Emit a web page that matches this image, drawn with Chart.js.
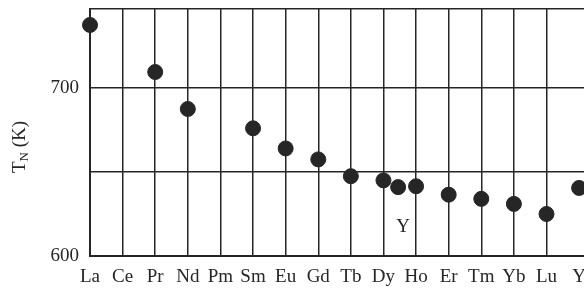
<!DOCTYPE html>
<html>
<head>
<meta charset="utf-8">
<script src="https://cdn.jsdelivr.net/npm/chart.js@4/dist/chart.umd.min.js"></script>
<style>
  html, body { margin: 0; padding: 0; background: #fff; overflow: hidden; }
  #wrap { width: 584px; height: 291px; position: relative; }
</style>
</head>
<body>
<div id="wrap"><canvas id="neelChart"></canvas></div>
<script>
/* ── Data ── */
const elements = ['La', 'Ce', 'Pr', 'Nd', 'Pm', 'Sm', 'Eu', 'Gd', 'Tb', 'Dy', 'Ho', 'Er', 'Tm', 'Yb', 'Lu', 'Y'];
const pointPos = [0, 2, 3, 5, 6, 7, 8, 9, 9.45, 10, 11, 12, 13, 14, 15];
const neelTemps = [737.5, 709.5, 687.5, 676, 664, 657.5, 647.5, 645, 641, 641.5, 636.5, 634, 631, 625, 640.5];
const yTicks = [600, 650, 700, 747];
const yLabels = { 600: '600', 700: '700' };

const INK = '#262626';
const SERIF = '"Liberation Serif", "DejaVu Serif", serif';
const FS = 19;

/* Draws the T_N (K) axis title and the loose "Y" note inside the plot */
const annotations = {
  id: 'annotations',
  afterDraw(chart) {
    const ctx = chart.ctx;
    const xs = chart.scales.x, ys = chart.scales.y;
    ctx.save();
    ctx.fillStyle = INK;

    /* rotated axis title with subscript N */
    ctx.translate(20, 147);
    ctx.rotate(-Math.PI / 2);
    ctx.textBaseline = 'middle';
    ctx.textAlign = 'left';
    const big = FS + 'px ' + SERIF, small = '13px ' + SERIF;
    ctx.font = big;
    const tW = ctx.measureText('T').width, rW = ctx.measureText(' (K)').width;
    ctx.font = small;
    const nW = ctx.measureText('N').width;
    let x0 = -(tW + nW + rW) / 2;
    ctx.font = big;
    ctx.fillText('T', x0, 0);
    x0 += tW;
    ctx.font = small;
    ctx.fillText('N', x0, 5);
    x0 += nW;
    ctx.font = big;
    ctx.fillText(' (K)', x0, 0);
    ctx.restore();

    ctx.save();
    ctx.fillStyle = INK;
    ctx.font = FS + 'px ' + SERIF;
    ctx.textAlign = 'center';
    ctx.textBaseline = 'middle';
    ctx.fillText('Y', xs.getPixelForValue(9.6), ys.getPixelForValue(617));
    ctx.restore();
  }
};

const points = pointPos.map((p, i) => ({ x: p, y: neelTemps[i] }));

new Chart(document.getElementById('neelChart'), {
  type: 'scatter',
  data: {
    datasets: [{
      data: points,
      backgroundColor: INK,
      borderColor: INK,
      pointRadius: 7.5,
      pointHoverRadius: 7.5,
      clip: false
    }]
  },
  options: {
    responsive: true,
    maintainAspectRatio: false,
    animation: false,
    events: [],
    layout: { autoPadding: false, padding: { top: 9, right: 0, left: 0, bottom: 0 } },
    plugins: {
      legend: { display: false },
      tooltip: { enabled: false }
    },
    scales: {
      x: {
        type: 'linear',
        min: 0,
        max: 15.15,
        afterBuildTicks: function(scale) {
          scale.ticks = elements.map((e, i) => ({ value: i }));
        },
        afterFit: function(scale) {
          scale.height = 35;
          scale.paddingLeft = 0;
          scale.paddingRight = 0;
        },
        grid: {
          /* the Y line sits on the picture's cut edge, so it is not shown */
          color: ctx => (ctx.tick && ctx.tick.value === 15 ? 'rgba(0,0,0,0)' : INK),
          lineWidth: 1.5,
          drawTicks: false
        },
        border: { color: INK, width: 2 },
        ticks: {
          padding: 10,
          color: INK,
          font: { family: SERIF, size: FS },
          maxRotation: 0,
          autoSkip: false,
          callback: function(v) { return elements[v]; }
        }
      },
      y: {
        min: 600,
        max: 747,
        afterBuildTicks: function(scale) {
          scale.ticks = yTicks.map(v => ({ value: v }));
        },
        afterFit: function(scale) {
          scale.width = 90;
          scale.paddingTop = 0;
          scale.paddingBottom = 0;
        },
        grid: { color: INK, lineWidth: 1.5, drawTicks: false },
        border: { color: INK, width: 2 },
        ticks: {
          padding: 11,
          color: INK,
          font: { family: SERIF, size: FS },
          callback: function(v) { return yLabels[v] || ''; }
        }
      }
    }
  },
  plugins: [annotations]
});
</script>
</body>
</html>
